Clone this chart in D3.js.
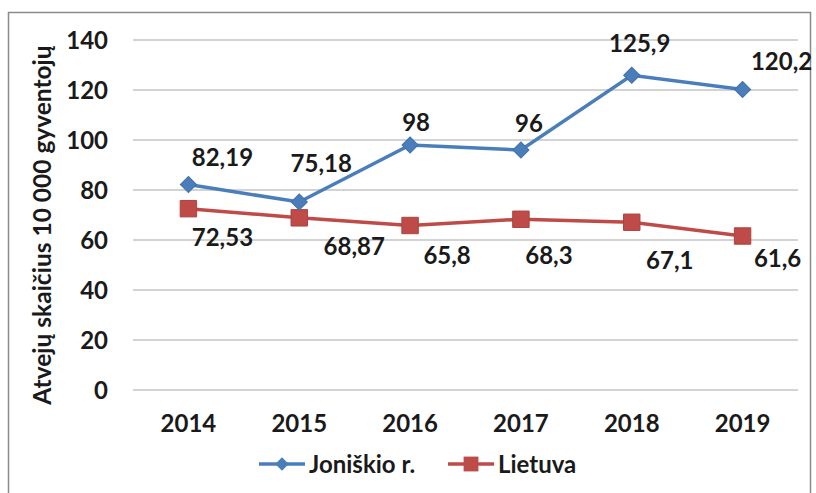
<!DOCTYPE html>
<html>
<head>
<meta charset="utf-8">
<style>
    body { margin: 0; background: #fff; }
    text { font-family: Lato, "Open Sans", sans-serif; font-weight: bold; fill: #1a1a1a; font-size: 24px; }
    .grid line { stroke: #c4c4c4; stroke-width: 1.5; }
</style>
<script src="https://cdn.jsdelivr.net/npm/d3@7"></script>
</head>
<body>
<svg width="816" height="493"></svg>
<script>
    // data
    var years = ["2014", "2015", "2016", "2017", "2018", "2019"];
    var joniskis = [82.19, 75.18, 98, 96, 125.9, 120.2];
    var lietuva = [72.53, 68.87, 65.8, 68.3, 67.1, 61.6];
    var yTicks = [0, 20, 40, 60, 80, 100, 120, 140];

    // hand placed label nudges (px), like the dragged labels in the original
    var jonDx = [34, 22, 6, 8, 8, 39], jonDy = [-27, -39, -23, -27, -32, -28];
    var lieDx = [34, 55, 37, 28, 38, 35], lieDy = [29, 29, 30, 36, 38, 22];

    var svg = d3.select("svg");
    var plotL = 133, plotR = 798, plotT = 40, plotB = 390;

    // outer chart frame
    svg.append("rect")
        .attr("x", 8.5).attr("y", 12.5)
        .attr("width", 802).attr("height", 500)
        .attr("fill", "none")
        .attr("stroke", "#8a8a8a")
        .attr("stroke-width", 1.5);

    var x = d3.scalePoint().domain(years).range([plotL, plotR]).padding(0.5);
    var y = d3.scaleLinear().domain([0, 140]).range([plotB, plotT]);

    // gridlines + y labels
    var grid = svg.append("g").attr("class", "grid");
    grid.selectAll("line").data(yTicks).enter().append("line")
        .attr("x1", plotL).attr("x2", plotR)
        .attr("y1", function (d) { return y(d); })
        .attr("y2", function (d) { return y(d); });

    svg.append("g").selectAll("text").data(yTicks).enter().append("text")
        .attr("x", 108)
        .attr("y", function (d) { return y(d); })
        .attr("dy", "0.36em")
        .attr("text-anchor", "end")
        .text(function (d) { return d; });

    svg.append("g").selectAll("text").data(years).enter().append("text")
        .attr("x", function (d) { return x(d); })
        .attr("y", 432)
        .attr("text-anchor", "middle")
        .text(function (d) { return d; });

    svg.append("text")
        .attr("transform", "translate(51,225) rotate(-90)")
        .attr("text-anchor", "middle")
        .style("font-size", "24.5px")
        .text("Atvejų skaičius 10 000 gyventojų");

    var fmt = function (v) { return String(v).replace(".", ","); };

    var line = d3.line()
        .x(function (d, i) { return x(years[i]); })
        .y(function (d) { return y(d); });

    // diamond = square turned 45deg
    function markerPath(shape, size) {
        return d3.symbol().type(d3.symbolSquare).size(size)();
    }
    function markerRot(shape) { return shape === "diamond" ? " rotate(45)" : ""; }

    function series(vals, color, shape, dx, dy) {
        var g = svg.append("g");
        g.append("path")
            .datum(vals)
            .attr("d", line)
            .attr("fill", "none")
            .attr("stroke", color)
            .attr("stroke-width", 3.5);
        g.selectAll(".m").data(vals).enter().append("path")
            .attr("class", "m")
            .attr("transform", function (d, i) { return "translate(" + x(years[i]) + "," + y(d) + ")" + markerRot(shape); })
            .attr("d", markerPath(shape, shape === "square" ? 270 : 130))
            .attr("fill", color)
            .attr("stroke", d3.color(color).darker(0.3))
            .attr("stroke-width", 1);
        g.selectAll(".lbl").data(vals).enter().append("text")
            .attr("class", "lbl")
            .attr("x", function (d, i) { return x(years[i]) + dx[i]; })
            .attr("y", function (d, i) { return y(d) + dy[i]; })
            .attr("dy", "0.36em")
            .attr("text-anchor", "middle")
            .text(fmt);
    }

    series(lietuva, "#be4b48", "square", lieDx, lieDy);
    series(joniskis, "#4a7ebb", "diamond", jonDx, jonDy);

    // legend
    var legend = [
        { name: "Joniškio r.", color: "#4a7ebb", shape: "diamond", x: 259 },
        { name: "Lietuva", color: "#be4b48", shape: "square", x: 448 }
    ];
    var lg = svg.append("g").selectAll("g").data(legend).enter().append("g")
        .attr("transform", function (d) { return "translate(" + d.x + ",464)"; });
    lg.append("line")
        .attr("x1", 0).attr("x2", 46)
        .attr("stroke", function (d) { return d.color; })
        .attr("stroke-width", 3.5);
    lg.append("path")
        .attr("transform", function (d) { return "translate(23,0)" + markerRot(d.shape); })
        .attr("d", function (d) { return markerPath(d.shape, d.shape === "square" ? 220 : 90); })
        .attr("fill", function (d) { return d.color; });
    lg.append("text")
        .attr("x", 50)
        .attr("dy", "0.36em")
        .text(function (d) { return d.name; });
</script>
</body>
</html>
